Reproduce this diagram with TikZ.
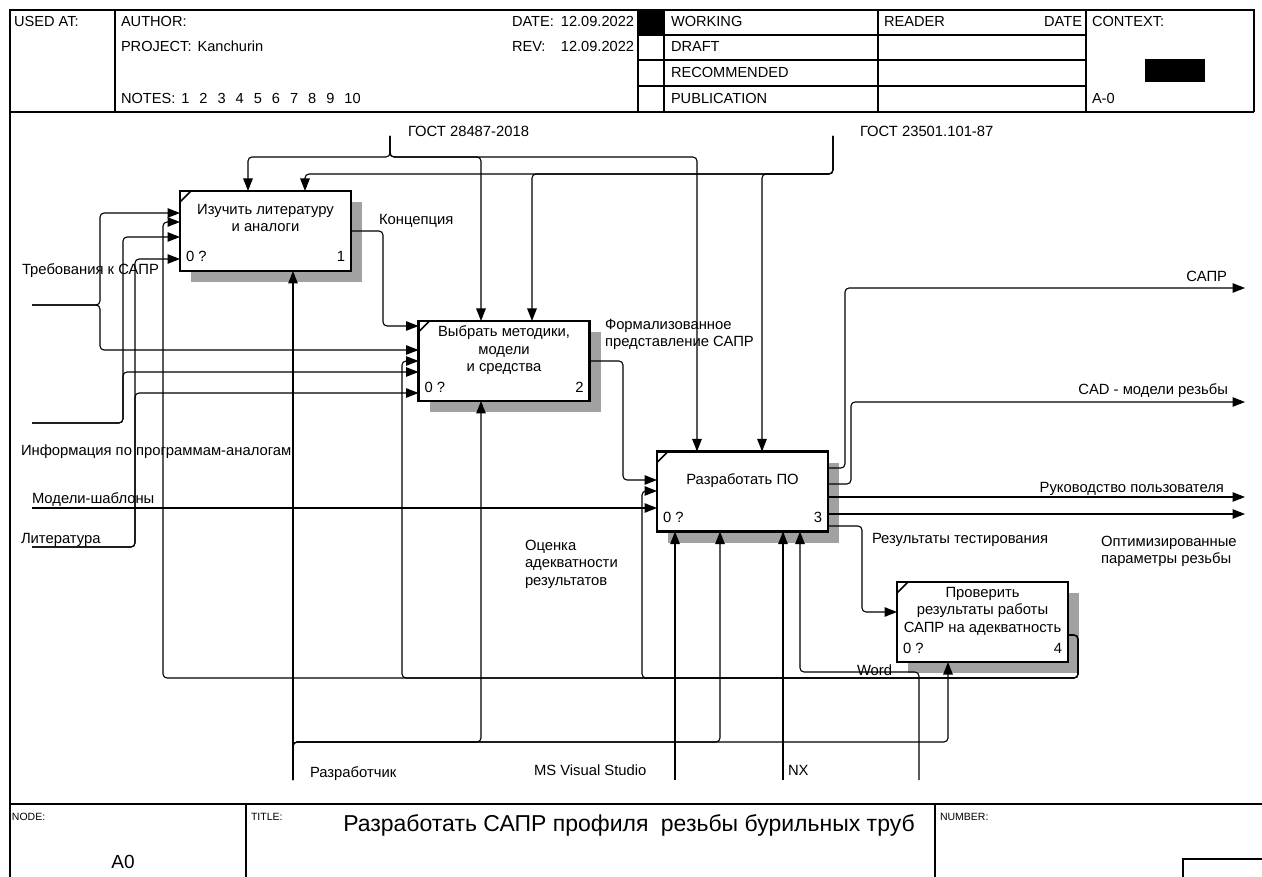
\documentclass[tikz,border=0pt]{standalone}
\usepackage{fontspec}
\setmainfont{Liberation Sans}
\usetikzlibrary{arrows.meta,shadows}
\begin{document}
\begin{tikzpicture}[x=1pt,y=-1pt,
  every node/.style={inner sep=0pt,outer sep=0pt},
  lbl/.style={font=\fontsize{14.8}{17.5}\selectfont},
  hdr/.style={font=\fontsize{14.6}{16}\selectfont},
  small/.style={font=\fontsize{10.5}{12}\selectfont},
  frm/.style={line width=1.3pt},
  act/.style={draw,line width=2.3pt,fill=white,minimum width=171pt,minimum height=80pt,
    general shadow={fill=black!37,shadow xshift=11pt,shadow yshift=-11pt}},
  flow/.style={line width=1.1pt,rounded corners=4pt},
  arr/.style={flow,-{Triangle[length=12.5pt,width=9.5pt]}},
  tick/.style={line width=1.5pt},
]
\useasboundingbox (0,0) rectangle (1262,877);
\fill[white] (0,0) rectangle (1262,877);

% ---------- header ----------
\draw[frm] (10,877) -- (10,10) -- (1254,10) -- (1254,112);
\draw[frm] (10,112) -- (1254,112);
\draw[frm] (115,10) -- (115,112);
\draw[frm] (638,10) -- (638,112);
\draw[frm] (664,10) -- (664,112);
\draw[frm] (878,10) -- (878,112);
\draw[frm] (1086,10) -- (1086,112);
\draw[frm] (638,35) -- (1086,35);
\draw[frm] (638,60) -- (1086,60);
\draw[frm] (638,86) -- (1086,86);
\fill (638,10) rectangle (664,35);
\fill (1145,59) rectangle (1205,82);

\node[hdr,anchor=base west] (usedat) at (14,27) {USED AT:};
\node[hdr,anchor=base west] (author) at (121,27) {AUTHOR:};
\node[hdr,anchor=base west] (project) at (121,52) {PROJECT:\hspace{6pt}Kanchurin};
\node[hdr,anchor=base west] (notes) at (121,104) {NOTES:\hspace{6pt}1\hspace{10pt}2\hspace{10pt}3\hspace{10pt}4\hspace{10pt}5\hspace{10pt}6\hspace{10pt}7\hspace{10pt}8\hspace{10pt}9\hspace{10pt}10};
\node[hdr,anchor=base west] (datek) at (512,27) {DATE:};
\node[hdr,anchor=base east] (datev) at (634,27) {12.09.2022};
\node[hdr,anchor=base west] (revk) at (512,52) {REV:};
\node[hdr,anchor=base east] (revv) at (634,52) {12.09.2022};
\node[hdr,anchor=base west] (working) at (671,27) {WORKING};
\node[hdr,anchor=base west] (draft) at (671,52) {DRAFT};
\node[hdr,anchor=base west] (recom) at (671,78) {RECOMMENDED};
\node[hdr,anchor=base west] (publ) at (671,104) {PUBLICATION};
\node[hdr,anchor=base west] (reader) at (884,27) {READER};
\node[hdr,anchor=base east] (rdate) at (1082,27) {DATE};
\node[hdr,anchor=base west] (context) at (1092,27) {CONTEXT:};
\node[hdr,anchor=base west] (anode) at (1092,104) {A-0};

% ---------- footer ----------
\draw[frm] (10,804) -- (1262,804);
\draw[frm] (246,804) -- (246,877);
\draw[frm] (935,804) -- (935,877);
\draw[frm] (1262,859) -- (1183,859) -- (1183,877);
\node[small,anchor=base west] (nodek) at (12,820) {NODE:};
\node[small,anchor=base west] (titlek) at (251,820) {TITLE:};
\node[small,anchor=base west] (numk) at (940,820) {NUMBER:};
\node[font=\fontsize{19}{22}\selectfont,anchor=base] (nodev) at (123,868) {A0};
\node[font=\fontsize{23}{27}\selectfont,anchor=base] (title) at (629,831) {Разработать САПР профиля\hspace{6pt} резьбы бурильных труб};

% ---------- activities ----------
\node[act] (b1) at (265.5,231) {};
\node[act] (b2) at (504,361) {};
\node[act] (b3) at (742.5,491.5) {};
\node[act] (b4) at (982.5,622) {};
\foreach \b in {b1,b2,b3,b4}
  \draw[tick] ([yshift=-11pt]\b.north west) -- ([xshift=11pt]\b.north west);

\node[lbl,align=center,anchor=north] (b1t) at (265.5,204) {Изучить литературу\\и аналоги};
\node[lbl,align=center,anchor=north] (b2t) at (504,326) {Выбрать методики,\\модели\\и средства};
\node[lbl,anchor=base] (b3t) at (742.5,484) {Разработать ПО};
\node[lbl,align=center,anchor=north] (b4t) at (982.5,587) {Проверить\\результаты работы\\САПР на адекватность};

\foreach \b/\n in {b1/1,b2/2,b3/3,b4/4}{
  \node[lbl,anchor=base west] (\b z) at ([xshift=6pt,yshift=9pt]\b.south west) {0 ?};
  \node[lbl,anchor=base east] (\b n) at ([xshift=-6pt,yshift=9pt]\b.south east) {\n};
}

% ---------- controls ----------
\coordinate (gA) at (390,136);
\coordinate (gB) at (833,136);
\node[lbl,anchor=base west] (gAl) at (408,137) {ГОСТ 28487-2018};
\node[lbl,anchor=base west] (gBl) at (860,137) {ГОСТ 23501.101-87};
\draw[arr] (gA) |- (248,157) -- (b1.north -| 248,0);
\draw[arr] (gA) |- (481,157) -- (b2.north -| 481,0);
\draw[arr] (gA) |- (697,157) -- (b3.north -| 697,0);
\draw[arr] (gB) |- (305,174) -- (b1.north -| 305,0);
\draw[arr] (gB) |- (532,174) -- (b2.north -| 532,0);
\draw[arr] (gB) |- (762,174) -- (b3.north -| 762,0);

% ---------- inputs ----------
\coordinate (iT) at (32,305);
\coordinate (iI) at (32,423);
\coordinate (iM) at (32,508);
\coordinate (iL) at (32,547);
\node[lbl,anchor=base west] (iTl) at (22,275) {Требования к САПР};
\node[lbl,anchor=base west] (iIl) at (21,455) {Информация по программам-аналогам};
\node[lbl,anchor=base west] (iMl) at (32,503) {Модели-шаблоны};
\node[lbl,anchor=base west] (iLl) at (21,543) {Литература};
\draw[arr] (iT) -| (100,213) -- (b1.west |- 0,213);
\draw[arr] (iT) -| (100,350) -- (b2.west |- 0,350);
\draw[arr] (iI) -| (123,237) -- (b1.west |- 0,237);
\draw[arr] (iI) -| (123,372) -- (b2.west |- 0,372);
\draw[arr] (iL) -| (135,259) -- (b1.west |- 0,259);
\draw[arr] (iL) -| (135,393) -- (b2.west |- 0,393);
\draw[arr] (iM) -- (b3.west |- 0,508);

% ---------- internal flows ----------
\node[lbl,anchor=base west] (konc) at (379,225) {Концепция};
\draw[arr] (b1.east |- 0,231) -| (383,326) -- (b2.west |- 0,326);
\node[lbl,align=left,anchor=north west] (form) at (605,319) {Формализованное\\представление САПР};
\draw[arr] (b2.east |- 0,361) -| (623,480) -- (b3.west |- 0,480);

% ---------- outputs ----------
\coordinate (oS) at (1245,288);
\coordinate (oC) at (1245,402);
\coordinate (oR) at (1245,497);
\coordinate (oP) at (1245,514);
\node[lbl,anchor=base east] (oSl) at (1227,282) {САПР};
\node[lbl,anchor=base east] (oCl) at (1228,395) {CAD - модели резьбы};
\node[lbl,anchor=base east] (oRl) at (1224,492) {Руководство пользователя};
\node[lbl,align=left,anchor=north west] (oPl) at (1101,536) {Оптимизированные\\параметры резьбы};
\node[lbl,anchor=base west] (testl) at (872,543) {Результаты тестирования};
\draw[arr] (b3.east |- 0,468) -| (845,288) -- (oS);
\draw[arr] (b3.east |- 0,484) -| (851,402) -- (oC);
\draw[arr] (b3.east |- 0,497) -- (oR);
\draw[arr] (b3.east |- 0,514) -- (oP);
\draw[arr] (b3.east |- 0,526) -| (862,612) -- (b4.west |- 0,612);

% ---------- feedback ----------
\node[lbl,align=left,anchor=north west] (ocen) at (525,540) {Оценка\\адекватности\\результатов};
\draw[arr] (b4.east |- 0,635) -| (1078,678) -| (163,222) -- (b1.west |- 0,222);
\draw[arr] (b4.east |- 0,635) -| (1078,678) -| (402,361) -- (b2.west |- 0,361);
\draw[arr] (b4.east |- 0,635) -| (1078,678) -| (642,491) -- (b3.west |- 0,491);

% ---------- mechanisms ----------
\coordinate (mR) at (293,780);
\coordinate (mV) at (675,780);
\coordinate (mN) at (783,780);
\coordinate (mW) at (919,780);
\node[lbl,anchor=base west] (mRl) at (310,777) {Разработчик};
\node[lbl,anchor=base west] (mVl) at (534,775) {MS Visual Studio};
\node[lbl,anchor=base west] (mNl) at (788,775) {NX};
\node[lbl,anchor=base west] (mWl) at (857,675) {Word};
\draw[arr] (mR) -- (b1.south -| 293,0);
\draw[arr] (mR) |- (481,742) -- (b2.south -| 481,0);
\draw[arr] (mR) |- (720,742) -- (b3.south -| 720,0);
\draw[arr] (mR) |- (948,742) -- (b4.south -| 948,0);
\draw[arr] (mV) -- (b3.south -| 675,0);
\draw[arr] (mN) -- (b3.south -| 783,0);
\draw[arr] (mW) |- (800,672) -- (b3.south -| 800,0);
\end{tikzpicture}
\end{document}
